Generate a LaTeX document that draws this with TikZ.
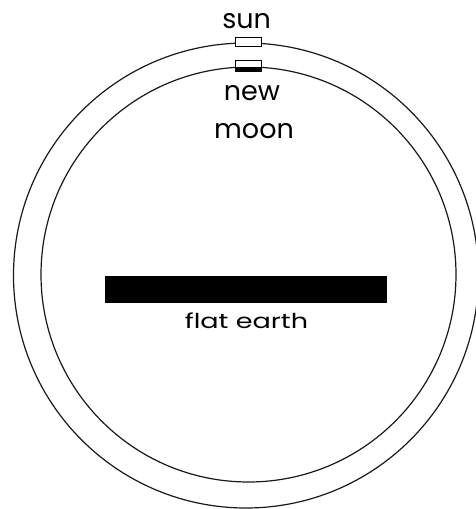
\documentclass[tikz,border=0pt]{standalone}
\usepackage{fontspec}
\setmainfont{Poppins}
\tikzset{
  orbit/.style={draw=black!90, line width=1.2pt},
  lbl/.style={anchor=base, inner sep=0pt, font=\fontsize{27}{27}\selectfont},
  smalllbl/.style={anchor=base, inner sep=0pt, font=\fontsize{20.5}{20.5}\selectfont},
  body/.style={draw=black, line width=0.8pt}
}
\begin{document}
\begin{tikzpicture}[x=1pt,y=-1pt]
\useasboundingbox (0,0) rectangle (475,509);
% orbits
\draw[orbit] (246,275.5) circle (232.5);
\draw[orbit] (248.5,274.5) circle (207.5);
% sun
\draw[body, fill=white] (235,37.5) rectangle (261,46);
% new moon
\draw[body, fill=white] (235,60.5) rectangle (261,71);
\fill[black] (235,66.5) rectangle (261,71);
% flat earth
\fill[black] (105,276) rectangle (387,303);
% labels
\node[lbl] (sun) at (246.7,28.3) {sun};
\node[lbl] (new) at (252,100.3) {new};
\node[lbl] (moon) at (254,138.7) {moon};
\node[smalllbl] (earth) at (246.5,328.3) {\scalebox{1.32}[1]{flat earth}};
\end{tikzpicture}
\end{document}
